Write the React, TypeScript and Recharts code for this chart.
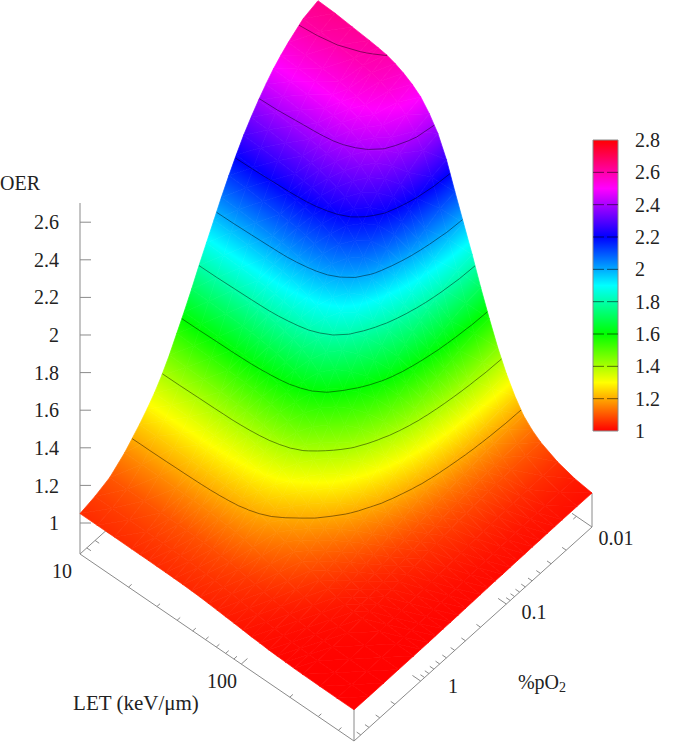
import React from 'react';
import { ComposedChart, Scatter, XAxis, YAxis, ReferenceLine, ReferenceArea } from 'recharts';

// where the grid rows and columns sit along the LET and pO2 axes, 0 to 1 on the log scale
const letSteps = [0, 0.0625, 0.125, 0.1875, 0.21875, 0.25, 0.28125, 0.3125, 0.34375, 0.375, 0.40625, 0.4375, 0.46875, 0.5, 0.53125, 0.5625, 0.59375, 0.625, 0.65625, 0.6875, 0.71875, 0.75, 0.78125, 0.8125, 0.875, 0.9375, 1];
const po2Steps = [0, 0.0625, 0.125, 0.1875, 0.25, 0.28125, 0.3125, 0.34375, 0.375, 0.40625, 0.4375, 0.46875, 0.5, 0.53125, 0.5625, 0.59375, 0.625, 0.65625, 0.6875, 0.71875, 0.75, 0.78125, 0.8125, 0.84375, 0.875, 0.9375, 1];

// OER. Rows go from LET 10 to LET 500, columns from 6 %pO2 to 0.01 %pO2.
const oerGrid = [
  [1.05, 1.07, 1.1, 1.16, 1.24, 1.285, 1.335, 1.395, 1.465, 1.545, 1.625, 1.71, 1.8, 1.885, 1.97, 2.055, 2.135, 2.21, 2.28, 2.34, 2.395, 2.445, 2.49, 2.527, 2.56, 2.615, 2.64],
  [1.05, 1.07, 1.1, 1.16, 1.239, 1.284, 1.334, 1.394, 1.464, 1.543, 1.623, 1.708, 1.798, 1.882, 1.967, 2.052, 2.132, 2.206, 2.276, 2.336, 2.391, 2.441, 2.486, 2.522, 2.555, 2.61, 2.635],
  [1.05, 1.069, 1.099, 1.159, 1.238, 1.282, 1.332, 1.391, 1.461, 1.54, 1.619, 1.704, 1.793, 1.877, 1.961, 2.046, 2.125, 2.199, 2.268, 2.328, 2.382, 2.432, 2.477, 2.513, 2.546, 2.6, 2.625],
  [1.049, 1.069, 1.099, 1.158, 1.236, 1.281, 1.33, 1.389, 1.458, 1.537, 1.616, 1.699, 1.788, 1.872, 1.955, 2.039, 2.118, 2.192, 2.261, 2.32, 2.374, 2.423, 2.468, 2.504, 2.537, 2.591, 2.615],
  [1.049, 1.069, 1.098, 1.157, 1.235, 1.28, 1.329, 1.387, 1.456, 1.535, 1.613, 1.697, 1.785, 1.868, 1.952, 2.035, 2.113, 2.187, 2.256, 2.315, 2.368, 2.418, 2.462, 2.498, 2.53, 2.584, 2.609],
  [1.049, 1.068, 1.098, 1.156, 1.234, 1.278, 1.327, 1.386, 1.454, 1.532, 1.61, 1.693, 1.781, 1.864, 1.947, 2.03, 2.108, 2.181, 2.249, 2.308, 2.362, 2.41, 2.454, 2.49, 2.523, 2.576, 2.601],
  [1.048, 1.068, 1.097, 1.155, 1.232, 1.276, 1.324, 1.382, 1.45, 1.527, 1.604, 1.687, 1.774, 1.856, 1.938, 2.02, 2.098, 2.17, 2.238, 2.296, 2.349, 2.397, 2.441, 2.477, 2.509, 2.562, 2.586],
  [1.048, 1.067, 1.095, 1.153, 1.229, 1.272, 1.32, 1.377, 1.444, 1.52, 1.596, 1.677, 1.763, 1.844, 1.925, 2.006, 2.083, 2.154, 2.221, 2.278, 2.331, 2.379, 2.421, 2.457, 2.488, 2.541, 2.565],
  [1.047, 1.066, 1.094, 1.15, 1.225, 1.267, 1.314, 1.37, 1.436, 1.511, 1.586, 1.665, 1.75, 1.829, 1.909, 1.989, 2.063, 2.134, 2.199, 2.256, 2.307, 2.354, 2.396, 2.431, 2.462, 2.513, 2.537],
  [1.046, 1.064, 1.092, 1.146, 1.22, 1.261, 1.307, 1.361, 1.425, 1.499, 1.572, 1.65, 1.732, 1.81, 1.888, 1.965, 2.039, 2.107, 2.171, 2.226, 2.276, 2.322, 2.363, 2.397, 2.427, 2.478, 2.501],
  [1.044, 1.062, 1.088, 1.141, 1.211, 1.251, 1.295, 1.348, 1.409, 1.48, 1.55, 1.625, 1.704, 1.779, 1.854, 1.928, 1.999, 2.065, 2.126, 2.179, 2.228, 2.272, 2.311, 2.344, 2.373, 2.421, 2.443],
  [1.042, 1.058, 1.084, 1.134, 1.2, 1.238, 1.28, 1.33, 1.388, 1.455, 1.522, 1.593, 1.668, 1.739, 1.81, 1.881, 1.948, 2.01, 2.069, 2.119, 2.165, 2.207, 2.244, 2.275, 2.303, 2.349, 2.369],
  [1.038, 1.054, 1.077, 1.123, 1.184, 1.219, 1.257, 1.303, 1.357, 1.419, 1.48, 1.545, 1.614, 1.68, 1.745, 1.81, 1.872, 1.929, 1.983, 2.029, 2.071, 2.11, 2.144, 2.173, 2.198, 2.24, 2.26],
  [1.034, 1.048, 1.068, 1.109, 1.164, 1.195, 1.229, 1.27, 1.318, 1.372, 1.427, 1.485, 1.546, 1.604, 1.663, 1.721, 1.775, 1.826, 1.874, 1.915, 1.953, 1.987, 2.018, 2.043, 2.065, 2.103, 2.12],
  [1.03, 1.042, 1.06, 1.096, 1.144, 1.171, 1.201, 1.237, 1.279, 1.327, 1.375, 1.426, 1.48, 1.531, 1.582, 1.633, 1.681, 1.726, 1.768, 1.804, 1.837, 1.867, 1.894, 1.916, 1.936, 1.969, 1.984],
  [1.026, 1.036, 1.052, 1.083, 1.124, 1.148, 1.174, 1.205, 1.241, 1.282, 1.324, 1.368, 1.414, 1.458, 1.502, 1.546, 1.588, 1.627, 1.663, 1.694, 1.723, 1.749, 1.772, 1.791, 1.808, 1.837, 1.85],
  [1.022, 1.03, 1.043, 1.069, 1.103, 1.123, 1.144, 1.17, 1.2, 1.234, 1.269, 1.305, 1.344, 1.381, 1.417, 1.454, 1.488, 1.52, 1.55, 1.576, 1.6, 1.621, 1.641, 1.657, 1.671, 1.694, 1.705],
  [1.017, 1.024, 1.035, 1.056, 1.084, 1.099, 1.117, 1.137, 1.162, 1.19, 1.218, 1.247, 1.278, 1.308, 1.338, 1.367, 1.395, 1.421, 1.445, 1.466, 1.485, 1.503, 1.519, 1.531, 1.543, 1.562, 1.571],
  [1.014, 1.019, 1.027, 1.044, 1.065, 1.078, 1.091, 1.107, 1.126, 1.148, 1.17, 1.193, 1.218, 1.241, 1.264, 1.287, 1.309, 1.329, 1.348, 1.364, 1.379, 1.393, 1.405, 1.415, 1.424, 1.439, 1.446],
  [1.01, 1.014, 1.021, 1.033, 1.05, 1.059, 1.069, 1.082, 1.096, 1.113, 1.129, 1.147, 1.166, 1.183, 1.201, 1.218, 1.235, 1.25, 1.265, 1.277, 1.289, 1.299, 1.308, 1.316, 1.323, 1.334, 1.339],
  [1.008, 1.011, 1.015, 1.024, 1.037, 1.044, 1.051, 1.06, 1.071, 1.083, 1.096, 1.109, 1.122, 1.135, 1.148, 1.161, 1.174, 1.185, 1.196, 1.205, 1.213, 1.221, 1.228, 1.234, 1.239, 1.247, 1.251],
  [1.006, 1.008, 1.011, 1.018, 1.026, 1.031, 1.037, 1.043, 1.051, 1.06, 1.069, 1.078, 1.088, 1.097, 1.107, 1.116, 1.125, 1.133, 1.141, 1.147, 1.153, 1.159, 1.164, 1.168, 1.172, 1.178, 1.18],
  [1.004, 1.006, 1.008, 1.013, 1.02, 1.023, 1.027, 1.032, 1.038, 1.045, 1.051, 1.058, 1.066, 1.073, 1.08, 1.087, 1.093, 1.099, 1.105, 1.11, 1.114, 1.118, 1.122, 1.125, 1.128, 1.132, 1.134],
  [1.003, 1.004, 1.006, 1.01, 1.015, 1.017, 1.02, 1.024, 1.028, 1.033, 1.038, 1.043, 1.049, 1.054, 1.059, 1.064, 1.069, 1.074, 1.078, 1.082, 1.085, 1.088, 1.091, 1.093, 1.095, 1.099, 1.1],
  [1.002, 1.002, 1.003, 1.005, 1.008, 1.01, 1.011, 1.013, 1.016, 1.019, 1.021, 1.024, 1.027, 1.03, 1.033, 1.036, 1.039, 1.041, 1.044, 1.046, 1.047, 1.049, 1.051, 1.052, 1.053, 1.055, 1.056],
  [1.001, 1.001, 1.002, 1.003, 1.004, 1.005, 1.006, 1.007, 1.008, 1.01, 1.011, 1.013, 1.014, 1.016, 1.017, 1.019, 1.02, 1.022, 1.023, 1.024, 1.025, 1.026, 1.027, 1.027, 1.028, 1.029, 1.03],
  [1.001, 1.001, 1.001, 1.002, 1.002, 1.003, 1.003, 1.004, 1.005, 1.005, 1.006, 1.007, 1.008, 1.009, 1.01, 1.011, 1.011, 1.012, 1.013, 1.013, 1.014, 1.014, 1.015, 1.015, 1.016, 1.016, 1.016],
];

const oerTicks = [1, 1.2, 1.4, 1.6, 1.8, 2, 2.2, 2.4, 2.6];
const colorbarTicks = [1, 1.2, 1.4, 1.6, 1.8, 2, 2.2, 2.4, 2.6, 2.8];
const contourLevels = [1.2, 1.4, 1.6, 1.8, 2, 2.2, 2.4, 2.6];
const letMinor = [20, 30, 40, 50, 60, 70, 80, 90, 200, 300, 400];
const letMajor = [100];
const po2Minor = [5, 4, 3, 2, 0.9, 0.8, 0.7, 0.6, 0.5, 0.4, 0.3, 0.2, 0.09, 0.08, 0.07, 0.06, 0.05, 0.04, 0.03, 0.02];
const po2Major = [1, 0.1];
const paletteLevels = [1, 1.3, 1.6, 1.9, 2.2, 2.5, 2.8];
const paletteColors = [[255, 0, 0], [255, 255, 0], [0, 255, 0], [0, 255, 255], [0, 0, 255], [255, 0, 255], [255, 0, 0]];

const WIDTH = 685;
const HEIGHT = 743;
const GRAY = '#8a8a8a';
const FONT = '"Liberation Serif", serif';

// LET and pO2 are both log axes
const uOfLet = (l: number) => Math.log10(l / 10) / Math.log10(50);
const vOfPo2 = (p: number) => Math.log10(6 / p) / Math.log10(600);

// floor of the 3D box in screen units, the surface sits on OER = 1, 31px above it
const floor = (u: number, v: number) => ({ x: 80 + 274 * u + 238 * v, y: 554 + 187 * u - 214 * v });
const project = (u: number, v: number, oer: number) => {
  const p = floor(u, v);
  return { x: p.x, y: p.y - 31 - 188 * (oer - 1) };
};

const colorAt = (value: number) => {
  const c = Math.min(2.8, Math.max(1, value));
  let k = 0;
  while (k < paletteLevels.length - 2 && c > paletteLevels[k + 1]) k++;
  const t = (c - paletteLevels[k]) / (paletteLevels[k + 1] - paletteLevels[k]);
  const rgb = paletteColors[k].map((a, n) => Math.round(a + (paletteColors[k + 1][n] - a) * t));
  return `rgb(${rgb.join(',')})`;
};

type Vertex = { x: number; y: number; oer: number };

const vertex = (i: number, j: number): Vertex => {
  const oer = oerGrid[i][j];
  const p = project(letSteps[i], po2Steps[j], oer);
  return { ...p, oer };
};

// two triangles per grid cell, back corner first so the front paints over it
const triangles: { id: number; x: number; y: number; pts: Vertex[] }[] = [];
for (let i = 0; i < oerGrid.length - 1; i++) {
  for (let j = oerGrid[0].length - 2; j >= 0; j--) {
    const a = vertex(i, j + 1);
    const b = vertex(i, j);
    const c = vertex(i + 1, j + 1);
    const d = vertex(i + 1, j);
    [[a, b, c], [b, d, c]].forEach((pts) => {
      triangles.push({
        id: triangles.length,
        x: (pts[0].x + pts[1].x + pts[2].x) / 3,
        y: (pts[0].y + pts[1].y + pts[2].y) / 3,
        pts,
      });
    });
  }
}

// where a contour level crosses each triangle
const contourSegments: { x: number; y: number; a: { x: number; y: number }; b: { x: number; y: number } }[] = [];
triangles.forEach(({ pts }) => {
  contourLevels.forEach((level) => {
    const hits: { x: number; y: number }[] = [];
    for (let n = 0; n < 3; n++) {
      const p = pts[n];
      const q = pts[(n + 1) % 3];
      if ((p.oer < level) !== (q.oer < level)) {
        const t = (level - p.oer) / (q.oer - p.oer);
        hits.push({ x: p.x + (q.x - p.x) * t, y: p.y + (q.y - p.y) * t });
      }
    }
    if (hits.length === 2) {
      contourSegments.push({ x: (hits[0].x + hits[1].x) / 2, y: (hits[0].y + hits[1].y) / 2, a: hits[0], b: hits[1] });
    }
  });
});

function TriangleShape(props: any) {
  const { cx, cy, payload } = props;
  const { id, pts, x, y } = payload;
  const dx = cx - x;
  const dy = cy - y;
  const [p0, p1, p2] = pts as Vertex[];
  const points = (pts as Vertex[]).map((p) => `${p.x + dx},${p.y + dy}`).join(' ');
  const ax = p1.x - p0.x;
  const ay = p1.y - p0.y;
  const bx = p2.x - p0.x;
  const by = p2.y - p0.y;
  const da = p1.oer - p0.oer;
  const db = p2.oer - p0.oer;
  const det = ax * by - bx * ay;
  const gx = (da * by - db * ay) / det;
  const gy = (ax * db - bx * da) / det;
  const g2 = gx * gx + gy * gy;
  const sorted = [...(pts as Vertex[])].sort((m, n) => m.oer - n.oer);
  const lo = sorted[0];
  const hi = sorted[2];
  if (hi.oer - lo.oer < 1e-4 || g2 < 1e-12) {
    const fill = colorAt(lo.oer);
    return <polygon points={points} fill={fill} stroke={fill} strokeWidth={0.7} />;
  }
  const span = hi.oer - lo.oer;
  const inner = paletteLevels.filter((l) => l > lo.oer && l < hi.oer);
  const stops = [lo.oer, ...inner, hi.oer];
  const url = `url(#tri${id})`;
  return (
    <g>
      <linearGradient
        id={`tri${id}`}
        gradientUnits="userSpaceOnUse"
        x1={lo.x + dx}
        y1={lo.y + dy}
        x2={lo.x + dx + (gx * span) / g2}
        y2={lo.y + dy + (gy * span) / g2}
      >
        {stops.map((s) => (
          <stop key={s} offset={(s - lo.oer) / span} stopColor={colorAt(s)} />
        ))}
      </linearGradient>
      <polygon points={points} fill={url} stroke={url} strokeWidth={0.7} strokeLinejoin="round" />
    </g>
  );
}

function ContourShape(props: any) {
  const { cx, cy, payload } = props;
  const dx = cx - payload.x;
  const dy = cy - payload.y;
  return (
    <line
      x1={payload.a.x + dx}
      y1={payload.a.y + dy}
      x2={payload.b.x + dx}
      y2={payload.b.y + dy}
      stroke="#000"
      strokeOpacity={0.5}
      strokeWidth={0.9}
    />
  );
}

const seg = (a: { x: number; y: number }, b: { x: number; y: number }) => [a, b] as any;

function boxLine(key: string, a: { x: number; y: number }, b: { x: number; y: number }) {
  return <ReferenceLine key={key} yAxisId="px" segment={seg(a, b)} stroke={GRAY} strokeWidth={1} />;
}

const boxLines = [
  boxLine('front-left', floor(0, 0), floor(1, 0)),
  boxLine('front-right', floor(1, 0), floor(1, 1)),
  boxLine('back-left', floor(0, 0), floor(0, 0.112)),
  boxLine('back-right', floor(1, 1), floor(0.927, 1)),
  boxLine('corner-z-left', floor(0, 0), { x: 80, y: 203 }),
  boxLine('corner-z-front', floor(1, 0), { x: 354, y: 709 }),
  boxLine('corner-z-right', floor(1, 1), { x: 592, y: 493 }),
];

const letTicks = [
  ...letMinor.map((l) => boxLine(`let${l}`, floor(uOfLet(l), 0), floor(uOfLet(l), 0.013))),
  ...letMajor.map((l) => boxLine(`let${l}`, floor(uOfLet(l), 0), floor(uOfLet(l), 0.026))),
  boxLine('let-back', floor(uOfLet(400), 1), floor(uOfLet(400), 0.987)),
];

const po2Ticks = [
  ...po2Minor.map((p) => boxLine(`po${p}`, floor(1, vOfPo2(p)), floor(0.985, vOfPo2(p)))),
  ...po2Major.map((p) => boxLine(`po${p}`, floor(1, vOfPo2(p)), floor(0.97, vOfPo2(p)))),
  ...[5, 4, 3].map((p) => boxLine(`po-back${p}`, floor(0, vOfPo2(p)), floor(0.015, vOfPo2(p)))),
];

const labelStyle = { fontFamily: FONT, fontSize: 20, fill: '#222' };

function Label({ x, y, size, children }: { x: number; y: number; size?: number; children: React.ReactNode }) {
  return (
    <text
      x={x}
      y={y}
      textAnchor="middle"
      dominantBaseline="central"
      style={size ? { ...labelStyle, fontSize: size } : labelStyle}
    >
      {children}
    </text>
  );
}

// the two value axes have no visible series, these keep them registered
const nothing = () => null;
const oerAnchor = oerTicks.map((t) => ({ x: 80, oer: t }));
const barAnchor = colorbarTicks.map((t) => ({ x: 618, bar: t }));

export default function App() {
  return (
    <div style={{ position: 'absolute', left: 0, top: 0, background: '#fff' }}>
      <ComposedChart width={WIDTH} height={HEIGHT} margin={{ top: 0, right: 0, bottom: 0, left: 0 }}>
        <defs>
          <linearGradient id="oerBar" x1="0" y1="1" x2="0" y2="0">
            {paletteLevels.map((l) => (
              <stop key={l} offset={(l - 1) / 1.8} stopColor={colorAt(l)} />
            ))}
          </linearGradient>
        </defs>
        <XAxis xAxisId={0} type="number" dataKey="x" domain={[80, 618]} hide />
        <YAxis yAxisId="px" type="number" dataKey="y" domain={[0, HEIGHT]} reversed hide />
        <YAxis
          yAxisId="oer"
          type="number"
          dataKey="oer"
          orientation="left"
          width={80}
          domain={[-0.1702, 3.7819]}
          ticks={oerTicks}
          interval={0}
          axisLine={false}
          tickLine={false}
          tickSize={0}
          tickMargin={21}
          tick={{ fontFamily: FONT, fontSize: 20, fill: '#222' }}
        />
        <YAxis
          yAxisId="bar"
          type="number"
          dataKey="bar"
          orientation="right"
          width={67}
          domain={[-0.9298, 3.666]}
          ticks={colorbarTicks}
          interval={0}
          axisLine={false}
          tickLine={false}
          tickSize={0}
          tickMargin={17}
          tick={{ fontFamily: FONT, fontSize: 20, fill: '#222' }}
        />

        {boxLines}
        {letTicks}
        {po2Ticks}

        <Scatter yAxisId="oer" data={oerAnchor} shape={nothing} isAnimationActive={false} />
        <Scatter yAxisId="bar" data={barAnchor} shape={nothing} isAnimationActive={false} />

        {oerTicks.map((t) => (
          <ReferenceLine
            key={t}
            yAxisId="oer"
            segment={seg({ x: 80, y: t }, { x: 91, y: t })}
            stroke={GRAY}
            strokeWidth={1}
          />
        ))}

        <ReferenceArea
          yAxisId="bar"
          x1={593}
          x2={618}
          y1={1}
          y2={2.8}
          fill="url(#oerBar)"
          fillOpacity={1}
          stroke={GRAY}
          strokeWidth={1}
        />
        {colorbarTicks.slice(1, -1).map((t) => (
          <React.Fragment key={t}>
            <ReferenceLine
              yAxisId="bar"
              segment={seg({ x: 593, y: t }, { x: 604, y: t })}
              stroke="#000"
              strokeOpacity={0.55}
            />
            <ReferenceLine
              yAxisId="bar"
              segment={seg({ x: 607, y: t }, { x: 618, y: t })}
              stroke="#000"
              strokeOpacity={0.55}
            />
          </React.Fragment>
        ))}

        <Scatter yAxisId="px" data={triangles} shape={TriangleShape} isAnimationActive={false} />
        <Scatter yAxisId="px" data={contourSegments} shape={ContourShape} isAnimationActive={false} />

        <Label x={20} y={183}>OER</Label>
        <Label x={62} y={571}>10</Label>
        <Label x={222} y={681}>100</Label>
        <Label x={136} y={703} size={21}>LET (keV/μm)</Label>
        <Label x={453} y={686}>1</Label>
        <Label x={534} y={612}>0.1</Label>
        <Label x={616} y={538}>0.01</Label>
        <Label x={542} y={682}>
          %pO<tspan dy={5} fontSize={14}>2</tspan>
        </Label>
      </ComposedChart>
    </div>
  );
}
